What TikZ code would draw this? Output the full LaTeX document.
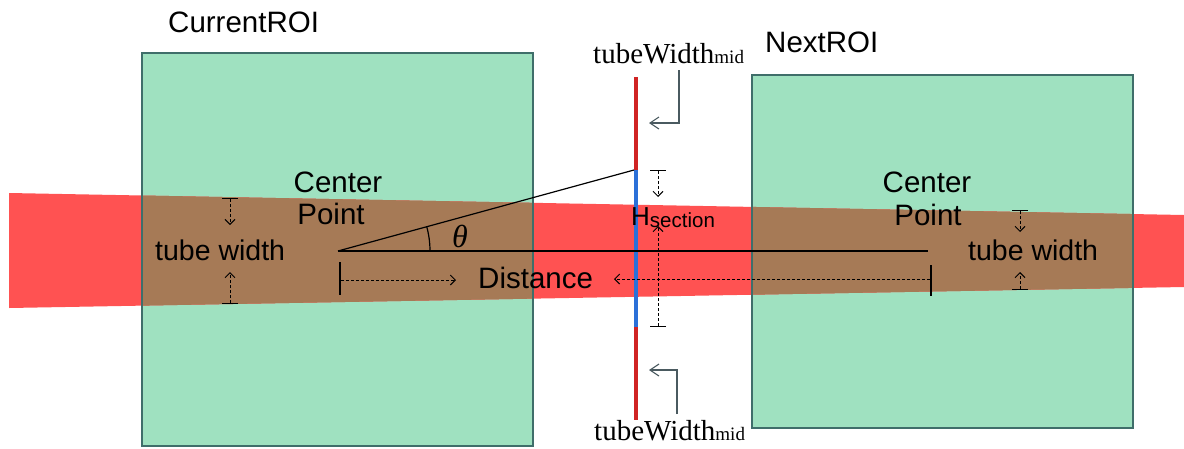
\documentclass[tikz,border=0pt]{standalone}
\usepackage{fontspec}
\setmainfont{Liberation Sans}
\newfontfamily\tubeserif{Liberation Serif}
\usetikzlibrary{arrows.meta}
\definecolor{roigreen}{HTML}{9FE1C0}
\definecolor{roiedge}{HTML}{3F6E6A}
\definecolor{bandred}{HTML}{FF5252}
\definecolor{bandbrown}{HTML}{A67A56}
\definecolor{barred}{HTML}{D02424}
\definecolor{barblue}{HTML}{2B70D8}
\definecolor{callgray}{HTML}{4A5A60}
\tikzset{
  roibox/.style={fill=roigreen,draw=none},
  roiline/.style={draw=roiedge,line width=1.2pt},
  lbl/.style={inner sep=0pt,anchor=base west,font=\fontsize{29.5}{31}\selectfont},
  serlbl/.style={inner sep=0pt,anchor=base west,font=\tubeserif\fontsize{29}{30}\selectfont},
  dimarrow/.style={dashed,line width=0.9pt,dash pattern=on 3pt off 2pt,
     {Bar[width=16pt,line width=1.1pt]}-{Straight Barb[length=5pt,width=10pt,line width=1pt]}},
  distarrow/.style={dashed,line width=0.9pt,dash pattern=on 3pt off 2pt,
     -{Straight Barb[length=5pt,width=10pt,line width=1pt]}},
  callout/.style={draw=callgray,line width=1.1pt,
     -{Straight Barb[length=9pt,width=12pt,line width=1.1pt]}},
  thinblack/.style={line width=1.2pt,draw=black}
}
\begin{document}
\begin{tikzpicture}[x=1pt,y=-1pt]
\useasboundingbox (0,0) rectangle (1184,448);
\fill[white] (0,0) rectangle (1184,448);
% ROI boxes
\fill[roibox] (142,53) rectangle (533,446);
\fill[roibox] (752,75) rectangle (1133,428);
% tube band
\fill[bandred] (9,193) -- (1184,215) -- (1184,287) -- (9,308) -- cycle;
\begin{scope}
  \clip (142,53) rectangle (533,446) (752,75) rectangle (1133,428);
  \fill[bandbrown] (9,193) -- (1184,215) -- (1184,287) -- (9,308) -- cycle;
\end{scope}
\draw[roiline] (142,53) rectangle (533,446);
\draw[roiline] (752,75) rectangle (1133,428);
% mid bar
\coordinate (bartop) at (636,77);
\coordinate (hsTop) at (636,170);
\coordinate (hsBot) at (636,327);
\coordinate (barbot) at (636,420);
\draw[barred,line width=4pt] (bartop) -- (hsTop);
\draw[barred,line width=4pt] (hsBot) -- (barbot);
\draw[barblue,line width=4pt] (hsTop) -- (hsBot);
% center lines
\coordinate (cp) at (338,251);
\coordinate (cpEnd) at (928,251);
\coordinate (slantEnd) at (634,170);
\draw[thinblack] (cp) -- (cpEnd);
\draw[thinblack] (cp) -- (slantEnd);
\draw[thinblack] (cp) ++(92pt,0pt) arc[start angle=0,end angle=15.3,radius=92pt];
\node[inner sep=0pt,font=\tubeserif\itshape\fontsize{32}{33}\selectfont] (theta) at (460,236) {θ};
% Distance
\coordinate (dLtop) at (340,262);
\coordinate (dLbot) at (340,295);
\draw[thinblack] (dLtop) -- (dLbot);
\coordinate (dLs) at (341,280);
\coordinate (dLe) at (456,280);
\draw[distarrow] (dLs) -- (dLe);
\coordinate (dRtop) at (931,265);
\coordinate (dRbot) at (931,296);
\draw[thinblack] (dRtop) -- (dRbot);
\coordinate (dRs) at (930,279);
\coordinate (dRe) at (614,279);
\draw[distarrow] (dRs) -- (dRe);
\node[lbl] (dist) at (478,288) {Distance};
% H section dimension
\coordinate (hT) at (658,170);
\coordinate (hTe) at (658,197);
\coordinate (hB) at (658,327);
\coordinate (hBe) at (658,226);
\draw[dimarrow] (hT) -- (hTe);
\draw[dimarrow] (hB) -- (hBe);
\node[lbl,font=\fontsize{26}{28}\selectfont] (hsec) at (631,225) {H\raisebox{-2pt}{\fontsize{20.5}{22}\selectfont section}};
% tube width left
\coordinate (twLT) at (230,198);
\coordinate (twLTe) at (230,225);
\coordinate (twLB) at (230,304);
\coordinate (twLBe) at (230,272);
\draw[dimarrow] (twLT) -- (twLTe);
\draw[dimarrow] (twLB) -- (twLBe);
\node[lbl,font=\fontsize{28.5}{30}\selectfont] (twL) at (155,260) {tube width};
% tube width right
\coordinate (twRT) at (1020,210);
\coordinate (twRTe) at (1020,232);
\coordinate (twRB) at (1020,290);
\coordinate (twRBe) at (1020,272);
\draw[dimarrow] (twRT) -- (twRTe);
\draw[dimarrow] (twRB) -- (twRBe);
\node[lbl,font=\fontsize{28.5}{30}\selectfont] (twR) at (968,260) {tube width};
% Center Point labels
\node[lbl,anchor=base] (cL1) at (338,192) {Center};
\node[lbl,anchor=base] (cL2) at (331,224) {Point};
\node[lbl,anchor=base] (cR1) at (927,192) {Center};
\node[lbl,anchor=base] (cR2) at (928,225) {Point};
% ROI titles
\node[lbl] (curroi) at (168,32) {CurrentROI};
\node[lbl] (nextroi) at (765,52) {NextROI};
% tubeWidth mid callouts
\node[serlbl] (twmTop) at (593,63) {tubeWidth{\fontsize{19}{20}\selectfont mid}};
\node[serlbl] (twmBot) at (594,440) {tubeWidth{\fontsize{19}{20}\selectfont mid}};
\coordinate (coTs) at (679,70);
\coordinate (coTe) at (649,123);
\draw[callout] (coTs) |- (coTe);
\coordinate (coBs) at (677,414);
\coordinate (coBe) at (649,370);
\draw[callout] (coBs) |- (coBe);
\end{tikzpicture}
\end{document}
